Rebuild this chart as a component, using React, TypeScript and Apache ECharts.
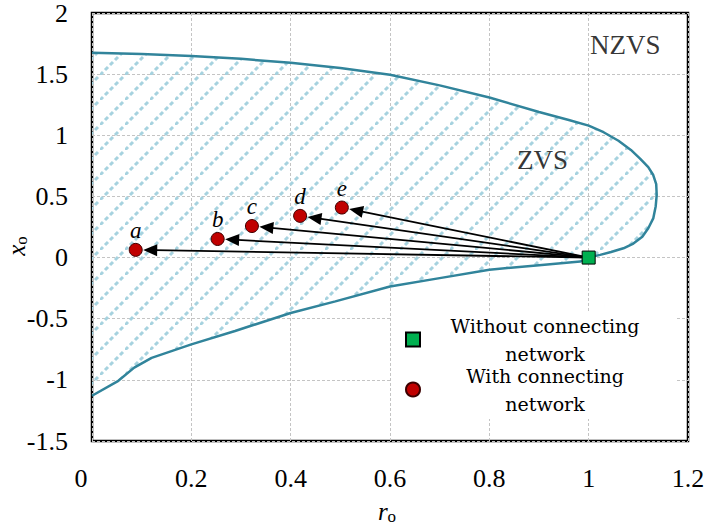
import React, { useEffect, useRef } from 'react';
import * as echarts from 'echarts';

// ---- data ----
const boundaryR = [0, 0.1, 0.2, 0.3, 0.4, 0.5, 0.6, 0.7, 0.8, 0.9, 0.96, 1.0, 1.03, 1.06, 1.085, 1.104, 1.12, 1.13, 1.136, 1.137, 1.135, 1.13, 1.12, 1.108, 1.09, 1.07, 1.045, 1.023, 1.0, 0.983, 0.9, 0.8, 0.7, 0.6, 0.49, 0.4, 0.288, 0.2, 0.12, 0.085, 0.053, 0];
const boundaryX = [1.675, 1.665, 1.648, 1.625, 1.593, 1.55, 1.495, 1.408, 1.309, 1.19, 1.125, 1.079, 1.025, 0.955, 0.88, 0.807, 0.74, 0.675, 0.6, 0.512, 0.42, 0.32, 0.24, 0.17, 0.115, 0.076, 0.045, 0.022, 0.0, -0.033, -0.062, -0.1, -0.168, -0.236, -0.358, -0.453, -0.6, -0.71, -0.82, -0.9, -1.008, -1.13];
const withoutR = [1.0];
const withoutX = [0.0];
const withNames = ['a', 'b', 'c', 'd', 'e'];
const withR = [0.088, 0.253, 0.322, 0.419, 0.503];
const withX = [0.063, 0.152, 0.258, 0.341, 0.409];
const regionNames = ['NZVS', 'ZVS'];
const regionR = [1.0735, 0.907];
const regionX = [1.74, 0.797];
const seriesNames = ['Without connecting network', 'With connecting network'];

const SERIF = 'Liberation Serif';

function makeHatch(): HTMLCanvasElement {
  const s = 25;
  const c = document.createElement('canvas');
  c.width = s;
  c.height = s;
  const ctx = c.getContext('2d')!;
  ctx.strokeStyle = '#a6d2df';
  ctx.lineWidth = 3;
  const diag = Math.SQRT2 * s;
  const period = diag / 5;
  ctx.setLineDash([period * 0.6, period * 0.4]);
  ctx.beginPath();
  ctx.moveTo(0, s);
  ctx.lineTo(s, 0);
  ctx.stroke();
  return c;
}

export default function App() {
  const ref = useRef<HTMLDivElement>(null);
  useEffect(() => {
    if (!ref.current) return;
    const chart = echarts.init(ref.current, undefined, { renderer: 'svg' });
    const hatch = makeHatch();
    const pattern: any = { image: hatch, repeat: 'repeat', imageWidth: 25, imageHeight: 25 };

    const option: any = {
      animation: false,
      backgroundColor: '#fff',
      textStyle: { fontFamily: SERIF, color: '#000' },
      grid: {
        left: 92,
        top: 10,
        width: 596,
        height: 431,
        show: true,
        borderColor: '#000',
        borderWidth: 2.5,
        backgroundColor: 'transparent',
      },
      xAxis: {
        type: 'value',
        min: 0,
        max: 1.2,
        interval: 0.2,
        axisLine: { show: false },
        axisTick: { show: false },
        splitLine: { show: true, lineStyle: { color: '#c4c4c4', width: 1, type: [3, 2] } },
        axisLabel: {
          margin: 24,
          color: '#000',
          fontFamily: SERIF,
          fontSize: 26,
          formatter: (v: number) => (v === 0 ? '{z|0}' : String(Math.round(v * 10) / 10)),
          rich: { z: { fontFamily: SERIF, fontSize: 26, color: '#000', padding: [0, 22, 0, 0] } },
        },
      },
      yAxis: {
        type: 'value',
        min: -1.5,
        max: 2,
        interval: 0.5,
        axisLine: { show: false },
        axisTick: { show: false },
        splitLine: { show: true, lineStyle: { color: '#c4c4c4', width: 1, type: [3, 2] } },
        axisLabel: {
          margin: 24,
          color: '#000',
          fontFamily: SERIF,
          fontSize: 26,
        },
      },
      legend: {
        data: seriesNames,
        orient: 'vertical',
        left: 392,
        top: 312,
        padding: [4, 10, 6, 13],
        backgroundColor: '#fff',
        itemWidth: 14,
        itemHeight: 14,
        itemGap: 3,
        selectedMode: false,
        formatter: (name: string) => {
          const parts = name.split(' network');
          return `{t|${parts[0]}}\n{t|network}`;
        },
        textStyle: {
          rich: {
            t: {
              width: 240,
              align: 'center',
              fontFamily: 'DejaVu Serif',
              fontSize: 19,
              lineHeight: 28,
              color: '#000',
            },
          },
        },
      },
      graphic: [
        {
          type: 'text',
          x: 387,
          y: 511,
          style: {
            text: '{i|r}{s|o}',
            align: 'center',
            verticalAlign: 'middle',
            rich: {
              i: { fontFamily: SERIF, fontStyle: 'italic', fontSize: 25, fill: '#000', color: '#000' },
              s: { fontFamily: SERIF, fontSize: 17, fill: '#000', color: '#000', padding: [10, 0, 0, 0] },
            },
          },
        },
        {
          type: 'text',
          x: 16,
          y: 246,
          rotation: Math.PI / 2,
          style: {
            text: '{i|x}{s|o}',
            align: 'center',
            verticalAlign: 'middle',
            rich: {
              i: { fontFamily: SERIF, fontStyle: 'italic', fontSize: 25, fill: '#000', color: '#000' },
              s: { fontFamily: SERIF, fontSize: 17, fill: '#000', color: '#000', padding: [10, 0, 0, 0] },
            },
          },
        },
      ],
      series: [
        {
          type: 'custom',
          name: 'ZVS region',
          z: 1,
          silent: true,
          data: [[0, 0]],
          renderItem: (params: any, api: any) => {
            const pts = boundaryR.map((r, i) => api.coord([r, boundaryX[i]]));
            return {
              type: 'polygon',
              shape: { points: pts },
              style: { fill: pattern, stroke: null },
            };
          },
        },
        {
          type: 'line',
          name: 'boundary',
          z: 2,
          silent: true,
          symbol: 'none',
          data: boundaryR.map((r, i) => [r, boundaryX[i]]),
          lineStyle: { color: '#31849b', width: 2.5 },
        },
        {
          type: 'custom',
          name: 'arrows',
          z: 3,
          silent: true,
          data: withR.map((r, i) => [withoutR[0], withoutX[0], r, withX[i]]),
          encode: { x: 0, y: 1 },
          renderItem: (params: any, api: any) => {
            const s = api.coord([api.value(0), api.value(1)]);
            const e = api.coord([api.value(2), api.value(3)]);
            const dx = e[0] - s[0];
            const dy = e[1] - s[1];
            const len = Math.hypot(dx, dy);
            const ux = dx / len;
            const uy = dy / len;
            const tip = [e[0] - ux * 7.5, e[1] - uy * 7.5];
            const base = [tip[0] - ux * 14, tip[1] - uy * 14];
            const px = -uy;
            const py = ux;
            const hw = 6;
            return {
              type: 'group',
              children: [
                {
                  type: 'line',
                  shape: { x1: s[0], y1: s[1], x2: base[0] + ux * 2, y2: base[1] + uy * 2 },
                  style: { stroke: '#000', lineWidth: 1.8 },
                },
                {
                  type: 'polygon',
                  shape: {
                    points: [
                      tip,
                      [base[0] + px * hw, base[1] + py * hw],
                      [base[0] - px * hw, base[1] - py * hw],
                    ],
                  },
                  style: { fill: '#000' },
                },
              ],
            };
          },
        },
        {
          type: 'scatter',
          name: seriesNames[1],
          z: 4,
          symbol: 'circle',
          symbolSize: 13,
          data: withR.map((r, i) => [r, withX[i]]),
          itemStyle: { color: '#c00000', borderColor: '#3d0000', borderWidth: 1, opacity: 1 },
          label: {
            show: true,
            position: 'top',
            distance: 1,
            formatter: (p: any) => withNames[p.dataIndex],
            fontFamily: SERIF,
            fontStyle: 'italic',
            fontSize: 23,
            color: '#000',
          },
        },
        {
          type: 'scatter',
          name: seriesNames[0],
          z: 5,
          symbol: 'rect',
          symbolSize: 13,
          data: withoutR.map((r, i) => [r, withoutX[i]]),
          itemStyle: { color: '#00b050', borderColor: '#000', borderWidth: 1, opacity: 1 },
        },
        {
          type: 'scatter',
          name: 'regions',
          z: 6,
          silent: true,
          symbolSize: 0,
          data: regionR.map((r, i) => [r, regionX[i]]),
          label: {
            show: true,
            position: 'inside',
            formatter: (p: any) => regionNames[p.dataIndex],
            fontFamily: SERIF,
            fontSize: 27,
            color: '#000',
          },
        },
      ],
    };
    chart.setOption(option);
    return () => chart.dispose();
  }, []);

  return (
    <div
      ref={ref}
      style={{ position: 'fixed', left: 0, top: 0, width: 709, height: 525, background: '#fff' }}
    />
  );
}
